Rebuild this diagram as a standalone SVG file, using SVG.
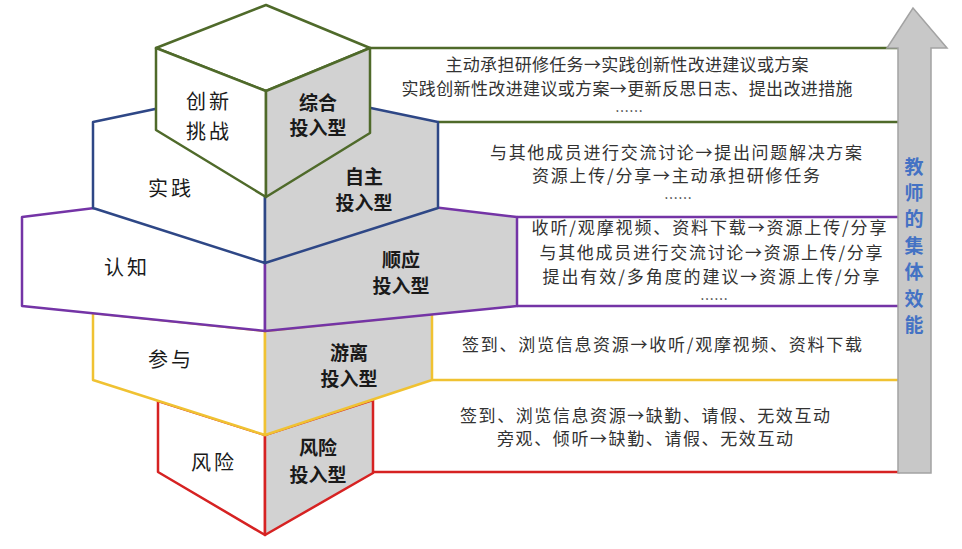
<svg xmlns="http://www.w3.org/2000/svg" width="962" height="549" viewBox="0 0 962 549">
<style>
.lbl{font-family:"Noto Sans CJK SC","Noto Sans",sans-serif;font-size:20px;fill:#1a1a1a;text-anchor:middle;dominant-baseline:central}
.typ{font-family:"Noto Sans CJK SC","Noto Sans",sans-serif;font-size:19px;font-weight:700;fill:#1a1a1a;text-anchor:middle;dominant-baseline:central}
.body{font-family:"Noto Sans CJK SC","Noto Sans",sans-serif;font-size:17px;fill:#333;text-anchor:middle;dominant-baseline:central}
.dots{font-family:"Noto Sans CJK SC","Noto Sans",sans-serif;font-size:14px;fill:#333;text-anchor:middle;dominant-baseline:central}
.vt{font-family:"Noto Sans CJK SC","Noto Sans",sans-serif;font-size:19px;font-weight:700;fill:#4472c4;text-anchor:middle;dominant-baseline:central}
.wf{fill:#fff}
.gf{fill:#d2d2d2}
.g{stroke:#4f6a2a;stroke-width:2.5;stroke-linejoin:round}
.b{stroke:#2e4786;stroke-width:2.5;stroke-linejoin:round}
.p{stroke:#7434a6;stroke-width:2.5;stroke-linejoin:round}
.y{stroke:#f0c232;stroke-width:2.5;stroke-linejoin:round}
.r{stroke:#d62222;stroke-width:2.5;stroke-linejoin:round}
</style>
<rect width="962" height="549" fill="#fff"/>
<g id="boxes">
  <g id="box-green">
    <line class="g" x1="370" y1="48" x2="900" y2="48"/>
    <line class="g" x1="438" y1="122" x2="900" y2="122"/>
    <text class="body" x="627" y="63" textLength="363">主动承担研修任务→实践创新性改进建议或方案</text>
    <text class="body" x="627" y="87" textLength="451">实践创新性改进建议或方案→更新反思日志、提出改进措施</text>
    <text class="dots" x="629" y="110">……</text>
  </g>
  <g id="box-blue">
    <text class="body" x="676" y="151" textLength="372">与其他成员进行交流讨论→提出问题解决方案</text>
    <text class="body" x="676" y="174" textLength="288">资源上传/分享→主动承担研修任务</text>
    <text class="dots" x="678" y="197">……</text>
  </g>
  <g id="box-purple">
    <line class="p" x1="517" y1="217" x2="900" y2="217"/>
    <line class="p" x1="517" y1="306" x2="900" y2="306"/>
    <text class="body" x="709" y="226" textLength="355">收听/观摩视频、资料下载→资源上传/分享</text>
    <text class="body" x="711" y="251" textLength="343">与其他成员进行交流讨论→资源上传/分享</text>
    <text class="body" x="711" y="275" textLength="337">提出有效/多角度的建议→资源上传/分享</text>
    <text class="dots" x="714" y="298">……</text>
  </g>
  <g id="box-yellow">
    <line class="y" x1="432" y1="380" x2="900" y2="380"/>
    <text class="body" x="662" y="343" textLength="400">签到、浏览信息资源→收听/观摩视频、资料下载</text>
  </g>
  <g id="box-red">
    <line class="r" x1="373" y1="472" x2="900" y2="472"/>
    <text class="body" x="645" y="414" textLength="370">签到、浏览信息资源→缺勤、请假、无效互动</text>
    <text class="body" x="645" y="437" textLength="296">旁观、倾听→缺勤、请假、无效互动</text>
  </g>
</g>
<g id="layer-risk">
  <polygon class="wf r" points="158,401 265,435 265,535 158,472"/>
  <polygon class="gf r" points="265,435 373,400 373,473 265,535"/>
  <text class="lbl" x="214" y="461" letter-spacing="3">风险</text>
  <text class="typ" x="318" y="446">风险</text>
  <text class="typ" x="318" y="473">投入型</text>
</g>
<g id="layer-participate">
  <polygon class="wf y" points="93,313 265,331 265,435 93,380"/>
  <polygon class="gf y" points="265,331 432,314 432,380 265,435"/>
  <text class="lbl" x="171" y="358" letter-spacing="3">参与</text>
  <text class="typ" x="349" y="351">游离</text>
  <text class="typ" x="349" y="377">投入型</text>
</g>
<g id="layer-cognition">
  <polygon class="wf p" points="22,217 265,187 265,331 22,306"/>
  <polygon class="gf p" points="265,187 517,217 517,306 265,331"/>
  <text class="lbl" x="127" y="266" letter-spacing="3">认知</text>
  <text class="typ" x="401" y="258">顺应</text>
  <text class="typ" x="401" y="284">投入型</text>
</g>
<g id="layer-practice">
  <polygon class="wf b" points="93,122 265,86 265,263 93,208"/>
  <polygon class="gf b" points="265,86 438,122 438,208 265,263"/>
  <text class="lbl" x="171" y="187" letter-spacing="3">实践</text>
  <text class="typ" x="364" y="175">自主</text>
  <text class="typ" x="364" y="201">投入型</text>
</g>
<g id="layer-challenge">
  <polygon class="wf g" points="266,5 370,48 266,91 156,48"/>
  <polygon class="wf g" points="156,48 266,91 266,197 156,130"/>
  <polygon class="gf g" points="266,91 370,48 370,133 266,197"/>
  <text class="lbl" x="209" y="100" letter-spacing="3">创新</text>
  <text class="lbl" x="209" y="130" letter-spacing="3">挑战</text>
  <text class="typ" x="318" y="101">综合</text>
  <text class="typ" x="318" y="126">投入型</text>
</g>
<g id="connectors">
  <g id="efficacy-arrow">
    <polygon points="898,473 898,48 887,48 913,8 947,48 931,48 931,473" fill="#c8c8c8" stroke="#a3a3a3" stroke-width="1.5" stroke-linejoin="miter"/>
    <text class="vt" x="914" y="165">教</text>
    <text class="vt" x="914" y="191">师</text>
    <text class="vt" x="914" y="217">的</text>
    <text class="vt" x="914" y="244">集</text>
    <text class="vt" x="914" y="270">体</text>
    <text class="vt" x="914" y="297">效</text>
    <text class="vt" x="914" y="323">能</text>
  </g>
</g>
</svg>
